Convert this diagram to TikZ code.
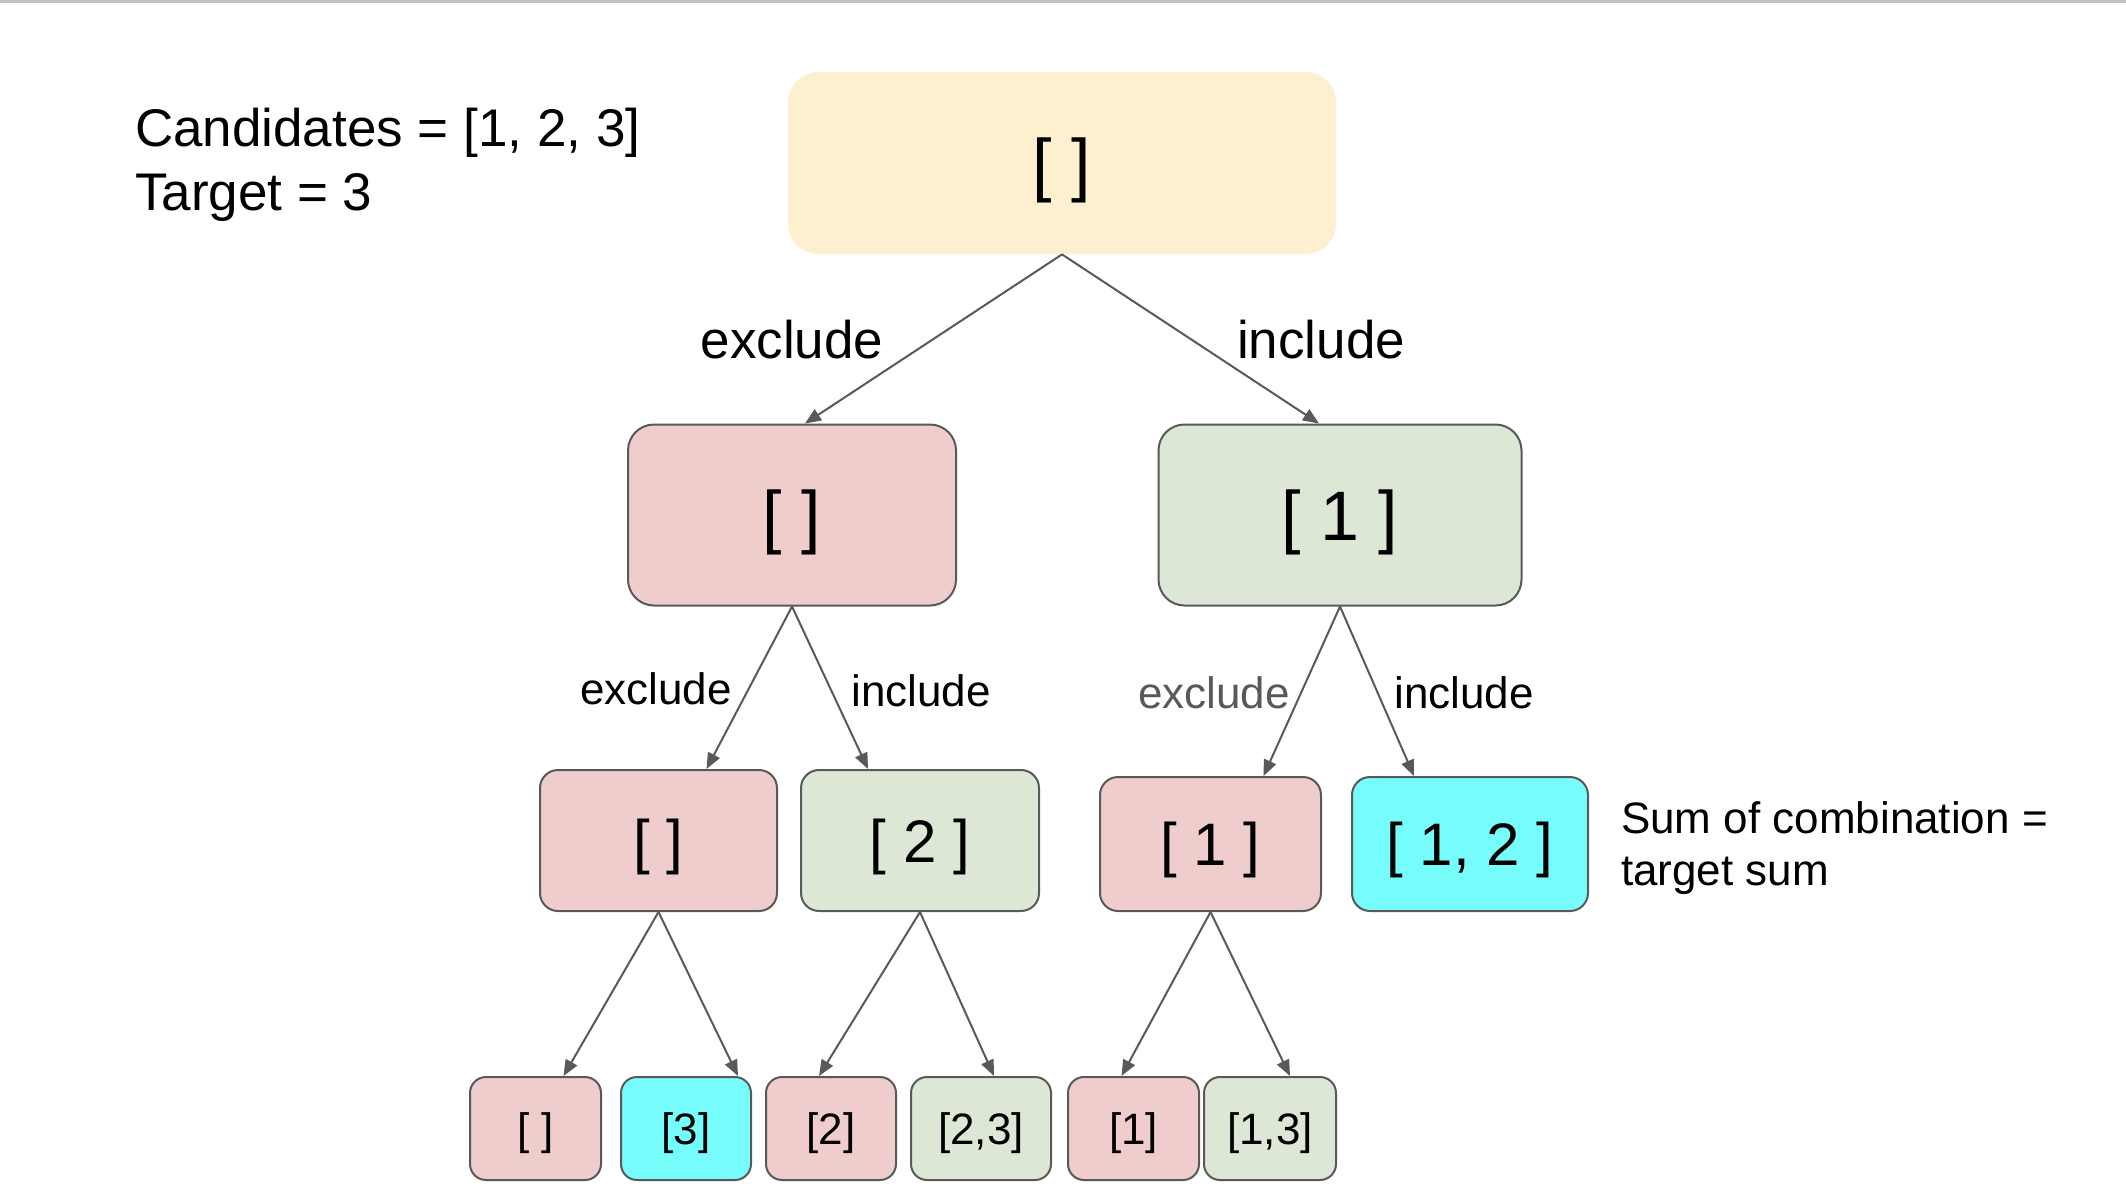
\documentclass[tikz,border=0pt]{standalone}
\usepackage{fontspec}
\setmainfont{Liberation Sans}
\usetikzlibrary{arrows.meta,calc}

\definecolor{rootfill}{HTML}{FCF0CF}
\definecolor{nofill}{HTML}{EECDCC}
\definecolor{yesfill}{HTML}{DCE7D5}
\definecolor{hitfill}{HTML}{77FCFC}
\definecolor{edgegray}{HTML}{595959}
\definecolor{rulegray}{HTML}{C0C0C0}

\newcommand{\fsz}[1]{\fontsize{#1}{1.2\dimexpr#1pt\relax}\selectfont}

\tikzset{
  box/.style={rectangle, rounded corners=#1, draw=edgegray, line width=1pt,
              inner sep=0pt, text depth=0pt, anchor=center},
  bigbox/.style={box=13pt, font=\fsz{35}},
  midbox/.style={box=9pt, font=\fsz{30}},
  leafbox/.style={box=8pt, font=\fsz{22}},
  branch/.style={draw=edgegray, line width=1pt,
                 -{Triangle[length=8pt,width=6.5pt]}},
  biglabel/.style={font=\fsz{26.5}, anchor=center},
  smalllabel/.style={font=\fsz{22}, anchor=center},
}

\begin{document}
\begin{tikzpicture}[x=0.5pt, y=-0.5pt]
  \useasboundingbox (0,0) rectangle (2126,1200);
  \fill[rulegray] (0,0) rectangle (2126,3);

  % problem statement
  \node[font=\fsz{26.5}, align=left, anchor=west] (problem) at (128,165)
    {Candidates = [1, 2, 3]\\Target = 3};

  % root
  \node[rectangle, rounded corners=15pt, fill=rootfill, minimum width=274pt,
        minimum height=91pt, inner sep=0pt, text depth=0pt, font=\fsz{35}] (root) at (1062,163) {[ ]};

  % second level
  \node[bigbox, fill=nofill, minimum width=164pt, minimum height=90.5pt] (l) at (792,515) {[ ]};
  \node[bigbox, fill=yesfill, minimum width=181.5pt, minimum height=90.5pt] (r) at (1340,515) {[ 1 ]};

  % third level
  \node[midbox, fill=nofill, minimum width=118.5pt, minimum height=70.5pt] (ll) at (658.5,840.5) {[ ]};
  \node[midbox, fill=yesfill, minimum width=119pt, minimum height=70.5pt] (lr) at (920,840.5) {[ 2 ]};
  \node[midbox, fill=nofill, minimum width=110.5pt, minimum height=67pt] (rl) at (1210.5,844) {[ 1 ]};
  \node[midbox, fill=hitfill, minimum width=118pt, minimum height=67pt] (rr) at (1470,844) {[ 1, 2 ]};

  % leaves
  \node[leafbox, fill=nofill, minimum width=65.5pt, minimum height=51.5pt] (a) at (535.5,1128.5) {[ ]};
  \node[leafbox, fill=hitfill, minimum width=65pt, minimum height=51.5pt] (b) at (686,1128.5) {[3]};
  \node[leafbox, fill=nofill, minimum width=65pt, minimum height=51.5pt] (c) at (831,1128.5) {[2]};
  \node[leafbox, fill=yesfill, minimum width=70pt, minimum height=51.5pt] (d) at (981,1128.5) {[2,3]};
  \node[leafbox, fill=nofill, minimum width=65.5pt, minimum height=51.5pt] (e) at (1133.5,1128.5) {[1]};
  \node[leafbox, fill=yesfill, minimum width=66pt, minimum height=51.5pt] (f) at (1270,1128.5) {[1,3]};

  % note beside the matching combination
  \node[font=\fsz{22}, align=left, anchor=west, text depth=0pt] (note) at (1614,843.5)
    {Sum of combination =\\target sum};

  % branches
  \draw[branch] (root.south) -- ([xshift=6.5pt]l.north);
  \draw[branch] (root.south) -- ([xshift=-10.5pt]r.north);
  \draw[branch] (l.south) -- ([xshift=24pt]ll.north);
  \draw[branch] (l.south) -- ([xshift=-26pt]lr.north);
  \draw[branch] (r.south) -- ([xshift=26.5pt]rl.north);
  \draw[branch] (r.south) -- ([xshift=-28pt]rr.north);
  \draw[branch] (ll.south) -- ([xshift=14pt]a.north);
  \draw[branch] (ll.south) -- ([xshift=26pt]b.north);
  \draw[branch] (lr.south) -- ([xshift=-6pt]c.north);
  \draw[branch] (lr.south) -- ([xshift=6.5pt]d.north);
  \draw[branch] (rl.south) -- ([xshift=-6pt]e.north);
  \draw[branch] (rl.south) -- ([xshift=10pt]f.north);

  % branch labels
  \node[biglabel] (ex1) at (792,340) {exclude};
  \node[biglabel] (in1) at (1321,340) {include};
  \node[smalllabel] (ex2) at (656,689) {exclude};
  \node[smalllabel] (in2) at (921,691) {include};
  \node[smalllabel, text=edgegray] (ex3) at (1214,693) {exclude};
  \node[smalllabel] (in3) at (1464,693) {include};
\end{tikzpicture}
\end{document}
